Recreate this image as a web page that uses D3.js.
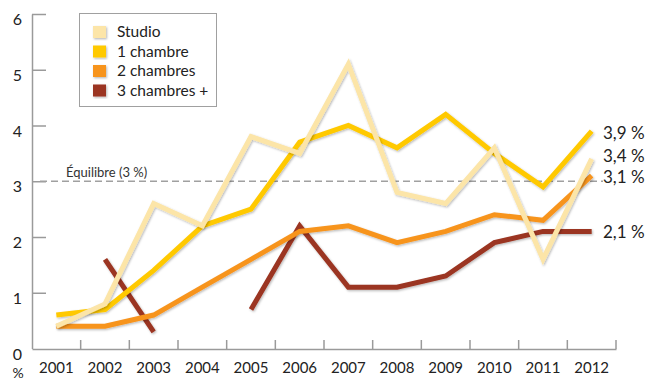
<!DOCTYPE html>
<html><head><meta charset="utf-8">
<script src="https://cdn.jsdelivr.net/npm/d3@7"></script>
<style>
html,body{margin:0;padding:0;background:#fff;}
svg{display:block;font-family:Lato,"DejaVu Sans",sans-serif;}
</style></head>
<body>
<svg id="chart" width="651" height="383"></svg>
<script>
const years = ["2001","2002","2003","2004","2005","2006","2007","2008","2009","2010","2011","2012"];
const studio    = [0.4, 0.8, 2.6, 2.2, 3.8, 3.5, 5.1, 2.8, 2.6, 3.6, 1.6, 3.4];
const chambre1  = [0.6, 0.7, 1.4, 2.2, 2.5, 3.7, 4.0, 3.6, 4.2, 3.5, 2.9, 3.9];
const chambre2  = [0.4, 0.4, 0.6, 1.1, 1.6, 2.1, 2.2, 1.9, 2.1, 2.4, 2.3, 3.1];
const chambre3  = [null, 1.6, 0.3, null, 0.7, 2.2, 1.1, 1.1, 1.3, 1.9, 2.1, 2.1];
const seriesNames = ["Studio", "1 chambre", "2 chambres", "3 chambres +"];
const seriesColors = ["#FCE5A8", "#FFC905", "#F7941E", "#9B3420"];
const endLabels = ["3,4 %", "3,9 %", "3,1 %", "2,1 %"];
const yTicks = [0, 1, 2, 3, 4, 5, 6];
const equilibre = 3;
const equilibreLabel = "Équilibre (3 %)";
const unitLabel = "%";

const svg = d3.select("#chart");
const defs = svg.append("defs");
const f = defs.append("filter").attr("id","sh").attr("x","-20%").attr("y","-20%").attr("width","140%").attr("height","140%");
f.append("feDropShadow").attr("dx",1).attr("dy",1.2).attr("stdDeviation",1.1).attr("flood-color","#000").attr("flood-opacity",0.28);

const x = d3.scaleBand().domain(years).range([32, 616]).padding(0);
const y = d3.scaleLinear().domain([0, 6]).range([348.5, 14]);
const axisColor = "#9a9a9a";

// Y axis
const yAxis = svg.append("g").attr("transform","translate(32,0)")
  .call(d3.axisLeft(y).tickValues(yTicks).tickSizeInner(-14).tickSizeOuter(0).tickPadding(10).tickFormat(d3.format("d")));
yAxis.select(".domain").attr("stroke", axisColor).attr("stroke-width",1.5);
yAxis.selectAll(".tick line").attr("stroke", axisColor).attr("stroke-width",1.5)
  .filter(d => d === 0).remove();
yAxis.selectAll(".tick text").attr("font-size",16).attr("fill","#222").attr("dy","0.66em").attr("font-family","Lato,sans-serif");

// X axis labels
const xAxis = svg.append("g").attr("transform","translate(0,349)")
  .call(d3.axisBottom(x).tickSize(0).tickPadding(13));
xAxis.select(".domain").attr("stroke", axisColor).attr("stroke-width",1.5);
xAxis.selectAll(".tick text").attr("font-size",15).attr("fill","#222").attr("font-family","Lato,sans-serif");
// boundary ticks
xAxis.selectAll(".btick").data(years).join("line")
  .attr("class","btick")
  .attr("x1", d => x(d) + x.bandwidth()).attr("x2", d => x(d) + x.bandwidth())
  .attr("y1", 0).attr("y2", -9)
  .attr("stroke", axisColor).attr("stroke-width",1.5);

// % label
svg.append("text").attr("x", 18).attr("y", 378).attr("text-anchor","middle")
  .attr("font-size",14).attr("fill","#222").text(unitLabel);

// Equilibrium line
svg.append("line").attr("x1",40).attr("x2",603).attr("y1",y(equilibre)).attr("y2",y(equilibre))
  .attr("stroke","#a0a0a0").attr("stroke-width",1.5).attr("stroke-dasharray","7,4");
svg.append("text").attr("x",66).attr("y",y(equilibre)-4).attr("font-size",13).attr("fill","#333")
  .text(equilibreLabel);

// Lines
const allSeries = [studio, chambre1, chambre2, chambre3];
const line = d3.line().defined(d => d.v != null).x(d => x(d.year) + x.bandwidth()/2).y(d => y(d.v)).curve(d3.curveLinear);
const order = [3, 2, 1, 0];
order.forEach(i => {
  const data = years.map((yr, j) => ({year: yr, v: allSeries[i][j]}));
  svg.append("path").datum(data).attr("d", line)
    .attr("fill","none").attr("stroke", seriesColors[i]).attr("stroke-width",5)
    .attr("stroke-linejoin","miter").attr("stroke-linecap","butt").attr("filter","url(#sh)");
});

// End labels
const endY = [156, 133, 177, 232];
endLabels.forEach((t, i) => {
  svg.append("text").attr("x",603).attr("y",endY[i]).attr("dy","0.35em")
    .attr("font-size",17).attr("fill","#222").text(t);
});

// Legend
const lg = svg.append("g");
lg.append("rect").attr("x",79.5).attr("y",13.5).attr("width",137).attr("height",93)
  .attr("fill","#fff").attr("stroke","#a0a0a0").attr("stroke-width",1);
seriesNames.forEach((n, i) => {
  const yy = 26 + i * 19.5;
  lg.append("rect").attr("x",93).attr("y",yy).attr("width",13).attr("height",12)
    .attr("fill", seriesColors[i]).attr("filter","url(#sh)");
  lg.append("text").attr("x",117).attr("y",yy + 6).attr("dy","0.35em")
    .attr("font-size",15.5).attr("fill","#222").text(n);
});
</script>
</body></html>
